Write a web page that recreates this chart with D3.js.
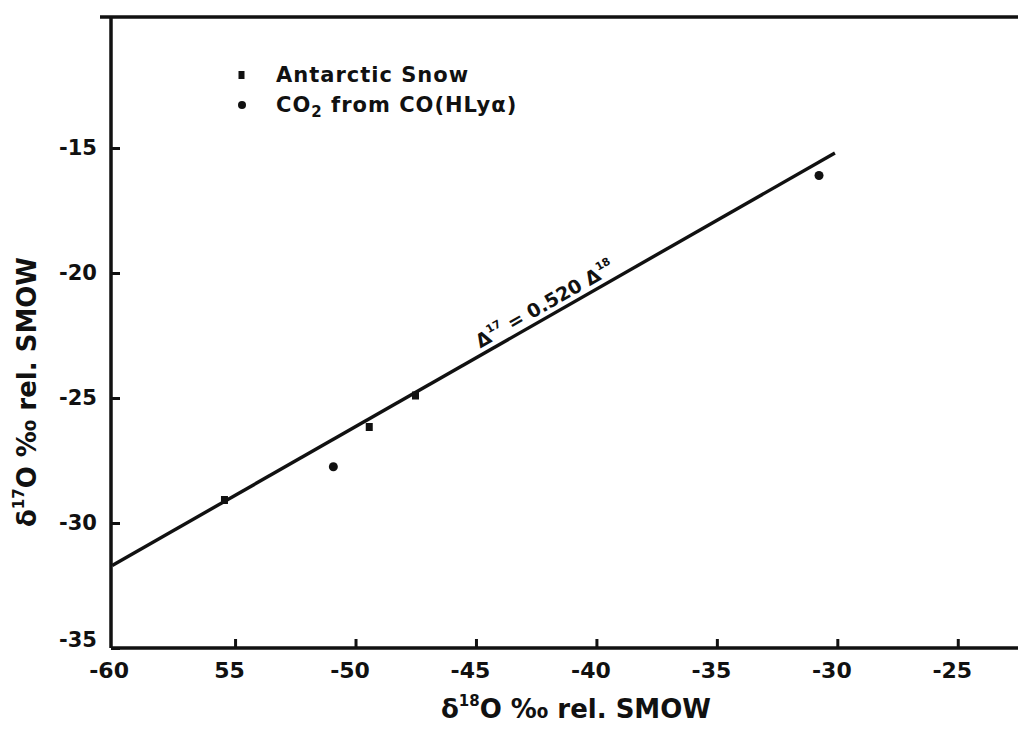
<!DOCTYPE html>
<html>
<head>
<meta charset="utf-8">
<script src="https://cdn.jsdelivr.net/npm/d3@7"></script>
<style>
  html, body { margin: 0; padding: 0; background: #fff; }
  svg { display: block; }
  text { font-family: "DejaVu Sans", sans-serif; font-weight: bold; fill: #111; }
</style>
</head>
<body>
<svg id="chart" width="1018" height="731"></svg>
<script>
// ---- data ----
const xTicks = [-60, -55, -50, -45, -40, -35, -30, -25];
const xTickLabels = ["-60", "55", "-50", "-45", "-40", "-35", "-30", "-25"];
const yTicks = [-35, -30, -25, -20, -15];
const yTickLabels = ["-35", "-30", "-25", "-20", "-15"];

const snowX = [-55.44, -49.43, -47.51];
const snowY = [-29.08, -26.16, -24.90];
const co2X = [-50.92, -30.76];
const co2Y = [-27.75, -16.10];

const lineX = [-60.1, -30.1];
const lineY = [-31.7, -15.2];

const legendLabels = ["Antarctic Snow", "CO2 from CO(HLyα)"];

// ---- layout ----
const W = 1018, H = 731;
const margin = {left: 111, top: 17, right: 0, bottom: 83};
const svg = d3.select("#chart");

const x = d3.scaleLinear().domain([-60.15, -22.5]).range([margin.left, W - margin.right]);
const y = d3.scaleLinear().domain([-35, -9.76]).range([H - margin.bottom, margin.top]);

const ink = "#111";

// frame: top border
svg.append("line")
  .attr("x1", 100).attr("x2", W)
  .attr("y1", y.range()[1]).attr("y2", y.range()[1])
  .attr("stroke", ink).attr("stroke-width", 3.5);

// x axis
const xAxis = d3.axisBottom(x)
  .tickValues(xTicks)
  .tickSize(-9)
  .tickPadding(14)
  .tickFormat((d, i) => xTickLabels[i]);
const gx = svg.append("g")
  .attr("transform", `translate(0,${y(-35)})`)
  .call(xAxis);
gx.select(".domain").attr("stroke", ink).attr("stroke-width", 3.5)
  .attr("d", `M${x.range()[0]},0H${W}`);
gx.selectAll(".tick line").attr("stroke", ink).attr("stroke-width", 3)
  .attr("opacity", d => d === -60 ? 0 : 1);
gx.selectAll(".tick text")
  .attr("font-size", 22).attr("font-family", "DejaVu Sans, sans-serif")
  .attr("font-weight", "bold").attr("fill", ink).attr("dx", -6);

// y axis
const yAxis = d3.axisLeft(y)
  .tickValues(yTicks)
  .tickSize(-9)
  .tickPadding(14)
  .tickFormat((d, i) => yTickLabels[i]);
const gy = svg.append("g")
  .attr("transform", `translate(${x.range()[0]},0)`)
  .call(yAxis);
gy.select(".domain").attr("stroke", ink).attr("stroke-width", 3.5)
  .attr("d", `M0,${y.range()[1]}V${y.range()[0]}`);
gy.selectAll(".tick line").attr("stroke", ink).attr("stroke-width", 3);
gy.selectAll(".tick text")
  .attr("font-size", 21).attr("font-family", "DejaVu Sans, sans-serif")
  .attr("font-weight", "bold").attr("fill", ink)
  .attr("dy", (d) => d === -35 ? "-0.05em" : "0.32em");

// regression line
const lineData = lineX.map((v, i) => [v, lineY[i]]);
svg.append("path")
  .datum(lineData)
  .attr("d", d3.line().x(d => x(d[0])).y(d => y(d[1])))
  .attr("stroke", ink).attr("stroke-width", 3.4).attr("fill", "none");

// annotation along line
const p0 = [x(lineX[0]), y(lineY[0])], p1 = [x(lineX[1]), y(lineY[1])];
const ang = Math.atan2(p1[1] - p0[1], p1[0] - p0[0]) * 180 / Math.PI;
const ax = -44.7;
const ay = lineY[0] + (lineY[1] - lineY[0]) * (ax - lineX[0]) / (lineX[1] - lineX[0]);
const ann = svg.append("text")
  .attr("transform", `translate(${x(ax)},${y(ay)}) rotate(${ang}) translate(0,-6)`)
  .attr("font-size", 19);
ann.append("tspan").text("Δ");
ann.append("tspan").attr("font-size", 11).attr("dy", -9).text("17");
ann.append("tspan").attr("dy", 9).text(" = 0.520 Δ");
ann.append("tspan").attr("font-size", 11).attr("dy", -9).text("18");

// points
svg.append("g").selectAll("rect")
  .data(snowX.map((v, i) => [v, snowY[i]]))
  .join("rect")
  .attr("x", d => x(d[0]) - 3.5).attr("y", d => y(d[1]) - 4)
  .attr("width", 7).attr("height", 8)
  .attr("fill", ink);
svg.append("g").selectAll("circle")
  .data(co2X.map((v, i) => [v, co2Y[i]]))
  .join("circle")
  .attr("cx", d => x(d[0])).attr("cy", d => y(d[1]))
  .attr("r", 4.5)
  .attr("fill", ink);

// legend
const lg = svg.append("g");
lg.append("rect").attr("x", 238.5).attr("y", 71).attr("width", 6).attr("height", 8).attr("fill", ink);
lg.append("circle").attr("cx", 242).attr("cy", 105).attr("r", 4).attr("fill", ink);
lg.append("text").attr("x", 276).attr("y", 82).attr("font-size", 21)
  .attr("letter-spacing", 1).text(legendLabels[0]);
const l2 = lg.append("text").attr("x", 276).attr("y", 112).attr("font-size", 21).attr("letter-spacing", 1);
l2.append("tspan").text("CO");
l2.append("tspan").attr("font-size", 15).attr("dy", 5).text("2");
l2.append("tspan").attr("dy", -5).text(" from CO(HLyα)");

// x title
const xt = svg.append("text")
  .attr("x", 576).attr("y", 718).attr("text-anchor", "middle").attr("font-size", 26);
xt.append("tspan").text("δ");
xt.append("tspan").attr("font-size", 15).attr("dy", -12).text("18");
xt.append("tspan").attr("dy", 12).text("O ‰ rel. SMOW");

// y title
const yt = svg.append("text")
  .attr("transform", "translate(36,392) rotate(-90)")
  .attr("text-anchor", "middle").attr("font-size", 26);
yt.append("tspan").text("δ");
yt.append("tspan").attr("font-size", 15).attr("dy", -12).text("17");
yt.append("tspan").attr("dy", 12).text("O ‰ rel. SMOW");
</script>
</body>
</html>
